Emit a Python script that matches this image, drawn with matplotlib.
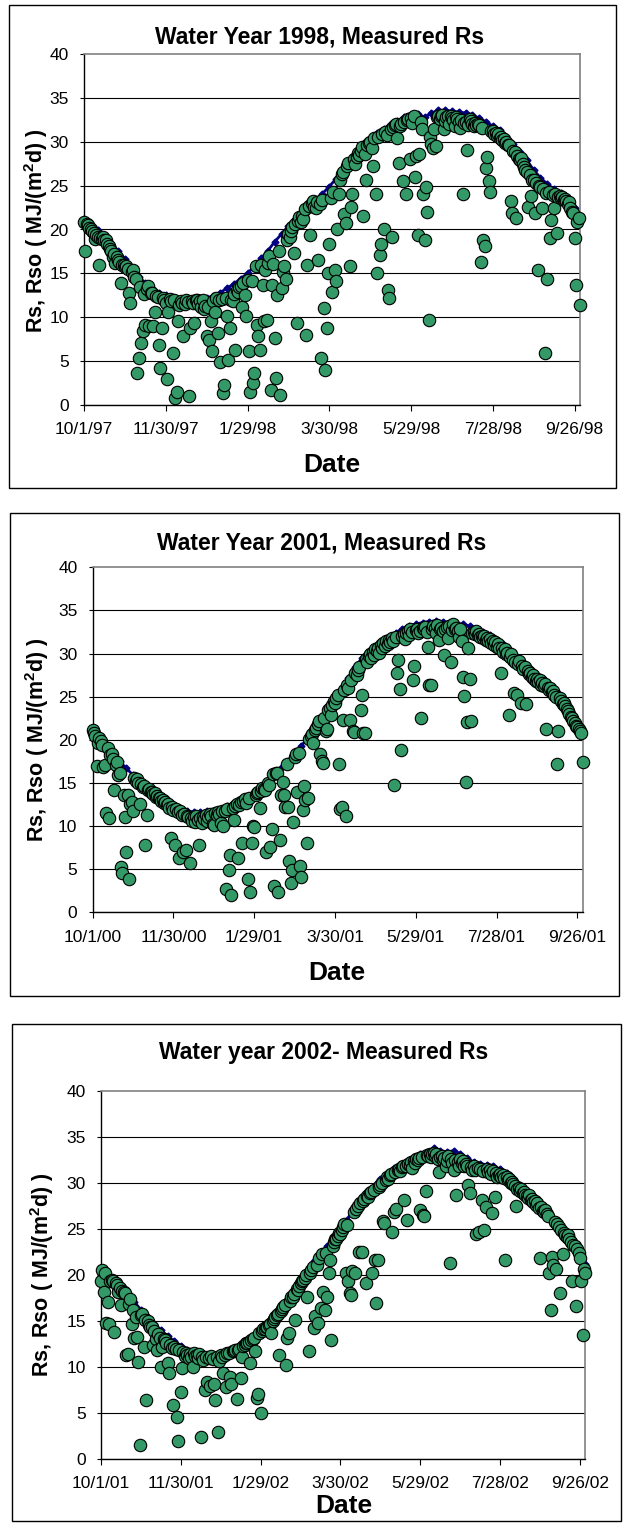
import matplotlib
matplotlib.use("Agg")
import matplotlib.pyplot as plt
import matplotlib.ticker as mticker
import matplotlib.dates as mdates
from matplotlib.patches import Rectangle
import pandas as pd

plt.rcParams["font.family"] = ["Liberation Sans", "DejaVu Sans"]
plt.rcParams["mathtext.fontset"] = "custom"
plt.rcParams["mathtext.rm"] = "Liberation Sans"
plt.rcParams["mathtext.bf"] = "Liberation Sans:bold"

W, H = 623, 1523

# daily measured Rs, MJ/(m2 d), water years starting Oct 1
rs_1998 = [
    20.9, 17.6, 20.6, 20.5, 20.2, 20.0, 19.8, 19.6, 18.9, 19.4,
    19.2, 16.0, 19.0, 18.9, 19.1, 18.8, 18.8, 18.4, 18.1, 17.8,
    17.6, 16.9, 17.2, 16.2, 16.9, 16.5, 16.3, 13.9, 16.0, 15.9,
    15.7, 15.8, 15.5, 12.8, 11.6, 15.2, 15.4, 14.6, 14.4, 3.6,
    5.3, 13.4, 7.0, 8.4, 12.6, 9.1, 13.2, 13.6, 9.0, 12.8,
    12.7, 9.0, 10.6, 12.4, 12.3, 6.8, 4.2, 8.7, 12.2, 12.0,
    11.6, 2.9, 10.6, 12.1, 11.8, 5.9, 11.9, 0.8, 1.4, 9.5,
    11.4, 11.8, 11.6, 7.8, 11.5, 11.9, 11.7, 1.0, 8.7, 11.8,
    11.6, 9.3, 11.9, 12.0, 11.5, 11.8, 11.2, 11.9, 10.9, 11.3,
    7.8, 11.1, 7.4, 9.6, 6.1, 11.8, 10.6, 12.2, 8.2, 11.9,
    4.9, 12.1, 1.3, 2.3, 12.2, 10.1, 5.1, 8.7, 12.0, 11.8,
    12.6, 6.3, 13.1, 12.9, 13.4, 13.6, 11.2, 13.9, 12.5, 10.1,
    14.2, 6.1, 1.5, 14.1, 2.5, 3.6, 15.8, 9.1, 7.8, 6.3,
    16.0, 13.7, 9.5, 15.4, 9.7, 16.2, 17.0, 1.7, 13.7, 16.1,
    7.6, 3.0, 12.5, 17.5, 1.1, 13.3, 15.2, 15.8, 14.3, 18.8,
    19.5, 19.2, 19.8, 20.3, 17.3, 20.6, 9.3, 21.0, 21.4, 20.9,
    21.5, 21.2, 22.3, 8.0, 16.0, 22.7, 19.4, 23.0, 23.3, 22.6,
    22.4, 23.1, 16.5, 22.9, 5.3, 23.4, 11.0, 4.0, 8.7, 15.0,
    18.3, 23.6, 12.9, 24.3, 15.4, 14.1, 20.0, 24.0, 25.6, 26.3,
    26.6, 21.8, 20.7, 27.2, 27.6, 15.8, 22.6, 24.0, 28.0, 27.5,
    28.3, 28.7, 28.5, 29.0, 29.4, 21.5, 28.6, 25.7, 29.6, 29.9,
    30.0, 29.3, 27.3, 30.4, 24.0, 15.0, 30.6, 17.1, 18.3, 30.9,
    20.0, 31.1, 30.8, 13.1, 12.2, 31.5, 19.2, 31.7, 31.9, 32.0,
    30.5, 27.6, 31.8, 32.1, 25.5, 32.3, 24.0, 32.5, 32.6, 28.1,
    32.7, 32.2, 32.9, 26.0, 28.4, 19.4, 28.6, 32.3, 31.5, 24.0,
    18.8, 24.9, 22.0, 9.7, 30.6, 29.8, 29.3, 31.5, 29.5, 32.8,
    33.0, 32.6, 32.9, 33.1, 31.5, 32.4, 32.8, 33.0, 32.1, 32.9,
    32.7, 32.5, 31.8, 32.8, 32.6, 32.3, 31.6, 32.5, 24.0, 32.2,
    32.3, 29.1, 31.9, 32.6, 32.4, 32.0, 31.8, 32.2, 31.9, 32.1,
    31.9, 16.3, 31.6, 18.8, 18.1, 27.0, 28.3, 25.5, 24.3, 31.2,
    31.2, 30.9, 31.0, 30.7, 30.9, 30.5, 30.6, 30.2, 30.3, 29.9,
    30.0, 29.6, 29.7, 23.2, 21.9, 29.0, 28.8, 21.3, 28.4, 28.1,
    27.9, 28.2, 27.5, 27.1, 26.8, 26.6, 22.6, 26.2, 23.8, 25.7,
    25.6, 21.9, 25.3, 15.4, 25.0, 24.8, 22.4, 24.6, 5.9, 24.2,
    14.4, 24.3, 19.0, 21.1, 23.9, 22.4, 24.0, 19.6, 23.7, 23.8,
    23.6, 23.7, 23.4, 23.5, 23.2, 22.9, 23.1, 22.5, 22.0, 21.9,
    19.0, 13.7, 20.9, 21.3, 11.4,
]

rs_2001 = [
    21.1, 20.8, 20.4, 17.0, 19.6, 20.2, 19.9, 19.4, 16.9, 17.1,
    11.5, 19.0, 10.9, 18.2, 18.4, 17.8, 14.2, 17.1, 17.4, 15.9,
    16.2, 5.3, 4.5, 13.6, 11.1, 7.0, 13.6, 3.9, 12.6, 12.8,
    11.7, 15.6, 15.2, 15.4, 15.0, 12.6, 14.9, 14.5, 14.7, 7.8,
    11.3, 14.2, 14.3, 13.9, 14.0, 13.7, 13.8, 13.4, 13.5, 13.2,
    13.3, 12.9, 13.0, 12.7, 12.8, 12.4, 12.5, 12.1, 8.6, 12.2,
    11.9, 7.8, 12.0, 11.6, 6.3, 11.7, 11.3, 7.0, 11.4, 7.2,
    11.2, 11.0, 5.7, 10.9, 10.6, 11.1, 10.5, 11.2, 10.7, 7.8,
    10.9, 10.4, 11.1, 10.8, 11.3, 10.6, 11.0, 11.4, 11.2, 10.2,
    10.1, 11.5, 11.3, 11.6, 11.4, 10.3, 11.7, 10.0, 11.8, 2.7,
    12.0, 4.9, 6.7, 2.0, 12.1, 10.7, 12.3, 12.5, 6.3, 12.4,
    12.8, 8.0, 12.9, 13.1, 12.7, 3.9, 13.2, 2.4, 8.0, 10.0,
    9.9, 13.6, 13.8, 14.0, 12.1, 14.1, 14.4, 14.3, 14.2, 7.0,
    15.0, 14.8, 7.6, 9.7, 16.0, 3.1, 16.1, 16.2, 2.4, 8.4,
    13.6, 15.1, 13.6, 12.2, 17.2, 12.2, 6.0, 3.4, 4.9, 10.5,
    18.0, 18.3, 13.9, 18.5, 5.4, 4.1, 11.9, 14.6, 13.0, 8.0,
    13.2, 20.1, 20.4, 20.7, 19.6, 21.1, 21.4, 21.8, 22.2, 18.4,
    17.5, 17.3, 22.5, 21.0, 21.2, 23.4, 23.7, 22.9, 24.0, 24.5,
    24.3, 24.9, 25.2, 17.2, 12.0, 12.2, 22.3, 25.8, 11.2, 26.4,
    26.0, 22.3, 26.9, 21.0, 20.9, 27.7, 27.5, 28.1, 28.4, 23.5,
    25.2, 20.8, 20.8, 29.4, 29.0, 29.7, 30.0, 29.5, 30.2, 29.8,
    30.5, 30.3, 30.7, 30.1, 31.0, 30.6, 31.2, 30.9, 31.4, 31.1,
    31.6, 31.3, 31.8, 31.5, 14.8, 31.9, 27.7, 29.2, 25.9, 18.8,
    32.0, 32.3, 31.7, 32.4, 32.6, 32.2, 32.8, 32.5, 26.9, 28.6,
    32.7, 32.9, 32.4, 32.6, 22.5, 33.0, 32.8, 33.1, 32.5, 30.8,
    26.3, 26.4, 32.9, 33.2, 33.0, 32.4, 33.3, 31.6, 32.8, 33.0,
    32.6, 29.8, 32.9, 33.1, 31.8, 33.2, 29.0, 32.7, 33.4, 32.9,
    33.0, 32.6, 31.9, 32.8, 31.4, 27.3, 25.1, 15.1, 22.1, 30.6,
    27.0, 22.2, 32.4, 32.5, 32.3, 32.6, 32.1, 32.3, 31.9, 32.0,
    31.8, 32.0, 31.6, 31.8, 31.4, 31.7, 31.2, 31.5, 31.0, 31.3,
    30.8, 31.1, 30.6, 27.7, 30.7, 30.2, 30.5, 29.9, 30.1, 22.9,
    29.6, 29.9, 29.3, 25.4, 29.0, 25.2, 28.8, 29.1, 24.3, 28.5,
    28.2, 28.4, 24.2, 28.0, 27.6, 27.8, 27.3, 27.5, 27.1, 26.8,
    27.0, 26.7, 26.9, 26.4, 26.6, 26.2, 26.5, 21.2, 26.0, 25.8,
    26.0, 25.5, 25.7, 25.2, 25.0, 17.2, 21.0, 24.8, 24.5, 24.2,
    24.3, 23.9, 23.6, 23.3, 23.0, 22.7, 22.5, 22.2, 21.9, 21.6,
    21.5, 21.2, 21.0, 20.8, 17.4,
]

rs_2002 = [
    19.4, 20.5, 18.2, 20.2, 14.8, 17.1, 14.7, 19.4, 19.5, 19.3,
    13.8, 19.1, 18.9, 18.2, 18.6, 16.7, 18.3, 18.2, 18.0, 11.3,
    11.4, 16.9, 17.4, 14.7, 16.2, 13.1, 15.4, 13.3, 10.5, 1.5,
    15.6, 15.8, 12.2, 15.1, 6.4, 15.0, 14.6, 14.4, 14.3, 12.4,
    13.9, 13.0, 11.8, 13.6, 13.2, 10.0, 12.2, 13.0, 12.9, 12.6,
    10.4, 9.4, 12.4, 12.1, 5.9, 12.2, 12.0, 4.6, 2.0, 11.8,
    7.3, 9.9, 11.6, 11.2, 11.5, 11.3, 11.0, 11.4, 11.1, 10.0,
    11.5, 11.2, 11.3, 11.0, 11.4, 2.4, 11.1, 10.8, 7.5, 11.1,
    8.4, 11.0, 7.9, 11.2, 10.9, 8.2, 6.4, 11.1, 2.9, 10.7,
    11.3, 11.1, 9.3, 11.3, 7.8, 11.5, 11.5, 8.9, 8.2, 11.7,
    11.7, 11.8, 6.5, 11.9, 12.0, 8.8, 11.1, 12.3, 12.4, 12.6,
    12.6, 12.7, 10.4, 12.9, 13.0, 13.1, 11.7, 6.6, 7.1, 13.7,
    5.0, 13.9, 14.1, 14.1, 14.3, 14.4, 14.6, 14.7, 13.7, 15.0,
    15.2, 15.4, 15.6, 15.8, 11.3, 16.1, 16.3, 16.5, 16.7, 10.2,
    13.1, 13.7, 17.2, 17.6, 17.6, 17.9, 15.1, 18.5, 18.4, 18.8,
    19.1, 19.4, 19.5, 19.7, 20.0, 17.6, 11.7, 20.2, 20.5, 20.9,
    14.2, 15.5, 21.1, 14.8, 21.8, 16.4, 22.3, 18.1, 16.2, 22.4,
    17.6, 20.2, 21.6, 12.9, 23.2, 23.6, 23.9, 23.9, 24.2, 24.6,
    24.5, 24.9, 25.2, 25.5, 20.2, 25.4, 19.3, 18.0, 17.8, 20.4,
    26.8, 20.2, 27.2, 27.5, 22.5, 27.8, 22.5, 28.0, 28.3, 19.1,
    28.6, 28.5, 28.9, 29.0, 20.2, 29.2, 21.6, 17.0, 21.6, 29.6,
    29.8, 30.0, 25.9, 25.6, 30.3, 30.6, 30.4, 30.9, 31.0, 24.7,
    26.9, 31.2, 27.2, 31.4, 31.5, 31.3, 31.7, 31.8, 28.2, 31.9,
    26.0, 32.1, 32.0, 32.3, 31.6, 32.4, 32.2, 32.6, 32.5, 32.7,
    27.1, 32.8, 26.5, 26.4, 29.1, 33.0, 32.9, 33.1, 32.8, 33.2,
    33.3, 32.9, 33.1, 32.6, 31.2, 32.8, 32.9, 32.5, 32.7, 31.8,
    32.4, 32.9, 21.3, 32.6, 32.2, 31.4, 32.5, 28.7, 32.3, 31.9,
    32.6, 32.2, 32.4, 31.9, 32.1, 31.8, 29.8, 28.9, 31.7, 31.4,
    31.8, 31.4, 24.5, 31.6, 24.7, 31.5, 28.2, 31.3, 24.9, 27.4,
    31.5, 31.2, 31.4, 31.0, 26.7, 31.3, 28.5, 31.1, 30.6, 30.9,
    31.0, 30.7, 30.9, 30.5, 21.6, 30.6, 30.3, 30.4, 30.0, 30.1,
    29.9, 29.7, 27.5, 29.4, 29.5, 29.1, 29.3, 28.9, 29.0, 28.7,
    28.6, 28.4, 28.7, 28.1, 28.3, 27.9, 28.0, 27.6, 27.8, 27.3,
    21.8, 27.4, 27.0, 26.8, 27.1, 26.6, 26.4, 20.2, 16.2, 22.0,
    21.1, 25.8, 20.7, 25.5, 25.2, 18.0, 24.9, 22.3, 24.6, 24.4,
    24.1, 24.3, 23.9, 23.6, 19.3, 23.3, 23.1, 16.6, 22.8, 22.4,
    21.8, 19.3, 13.5, 20.6, 20.2,
]

# clear-sky Rso, every 5 days plus the last day of the year
rso_1998 = [
    21.2, 20.6, 19.9, 19.2, 18.4, 17.5, 16.6, 15.6, 14.6, 13.9,
    13.3, 12.8, 12.5, 12.2, 12.0, 11.9, 11.9, 12.0, 12.2, 12.4,
    12.8, 13.3, 13.8, 14.4, 15.0, 15.8, 16.7, 17.6, 18.6, 19.5,
    20.4, 21.2, 22.0, 22.7, 23.4, 24.1, 24.9, 25.8, 26.7, 27.6,
    28.6, 29.5, 30.3, 31.0, 31.5, 32.0, 32.4, 32.8, 33.1, 33.2,
    32.8, 33.3, 33.6, 33.6, 33.5, 33.4, 33.3, 33.1, 32.7, 32.3,
    31.8, 31.4, 30.6, 29.8, 28.9, 27.9, 26.8, 25.9, 25.2, 24.6,
    24.2, 23.6, 22.4, 21.5,
]
rso_2001 = [
    21.2, 20.2, 19.2, 18.3, 17.5, 16.7, 15.9, 15.2, 14.6, 14.1,
    13.6, 13.1, 12.6, 12.1, 11.8, 11.6, 11.6, 11.7, 11.8, 12.0,
    12.3, 12.7, 13.1, 13.5, 14.0, 14.5, 15.2, 15.9, 16.7, 17.5,
    18.4, 19.3, 20.3, 21.4, 22.6, 23.7, 24.8, 25.9, 27.2, 28.4,
    29.5, 30.3, 30.9, 31.4, 31.9, 32.4, 32.9, 33.2, 33.4, 33.6,
    33.7, 33.8, 33.7, 33.6, 33.5, 33.4, 33.2, 32.9, 32.5, 32.1,
    31.6, 31.1, 30.4, 29.6, 28.8, 28.1, 27.5, 27.0, 26.4, 25.6,
    24.6, 23.2, 21.9, 21.0,
]
rso_2002 = [
    20.8, 20.1, 19.4, 18.7, 18.0, 17.1, 16.2, 15.4, 14.7, 14.0,
    13.4, 12.8, 12.3, 11.9, 11.6, 11.4, 11.3, 11.3, 11.4, 11.6,
    11.9, 12.3, 12.8, 13.3, 13.9, 14.6, 15.4, 16.3, 17.3, 18.3,
    19.4, 20.5, 21.5, 22.4, 23.2, 24.1, 25.0, 26.0, 27.3, 28.3,
    29.1, 29.7, 30.4, 31.0, 31.6, 32.0, 32.4, 32.8, 33.1, 33.4,
    33.8, 33.5, 33.4, 33.5, 33.2, 32.7, 32.3, 32.1, 32.0, 31.8,
    31.5, 31.1, 30.5, 29.8, 29.1, 28.4, 27.8, 27.1, 26.2, 25.3,
    24.6, 23.8, 22.6, 21.2,
]

# layout in pixels (x from left, y from top)
panels = [
    dict(title="Water Year 1998, Measured Rs", start="1997-10-01",
         rs=rs_1998, rso=rso_1998,
         plot=(84, 54.3, 580, 404.7), box=(8.7, 5, 616, 488),
         title_xy=(320, 37), date_xy=(332, 465), ylab_xy=(36, 231)),
    dict(title="Water Year 2001, Measured Rs", start="2000-10-01",
         rs=rs_2001, rso=rso_2001,
         plot=(92.7, 567.3, 582.7, 912.3), box=(10, 513, 619, 996),
         title_xy=(322, 543), date_xy=(337, 973), ylab_xy=(37, 740)),
    dict(title="Water year 2002- Measured Rs", start="2001-10-01",
         rs=rs_2002, rso=rso_2002,
         plot=(101, 1091, 585.3, 1459), box=(12, 1024, 621, 1521),
         title_xy=(324, 1053), date_xy=(344, 1506), ylab_xy=(42, 1275)),
]


def fx(x):
    return x / W


def fy(y):
    return 1 - y / H


def date_label(v, pos=None):
    d = mdates.num2date(v)
    return f"{d.month}/{d.day}/{d:%y}"


fig = plt.figure(figsize=(W / 100, H / 100), dpi=100)

for p in panels:
    x0, y0, x1, y1 = p["box"]
    fig.patches.append(Rectangle((fx(x0), fy(y1)), fx(x1) - fx(x0), fy(y0) - fy(y1),
                                 transform=fig.transFigure, fill=False,
                                 edgecolor="black", linewidth=1.0))

    l, t, r, b = p["plot"]
    ax = fig.add_axes([fx(l), fy(b), fx(r) - fx(l), fy(t) - fy(b)])

    start = pd.Timestamp(p["start"])
    days = pd.date_range(start, periods=len(p["rs"]), freq="D")
    rso_days = list(pd.date_range(start, periods=len(p["rso"]) - 1, freq="5D"))
    rso_days.append(start + pd.Timedelta(days=364))

    # Rso sits underneath; only its upper edge shows between the Rs dots
    ax.plot(rso_days, p["rso"], color="#000080", lw=2, marker="D", ms=3.5,
            zorder=2, clip_on=False)
    ax.scatter(days, p["rs"], s=80, c="#339966", edgecolors="black",
               linewidths=0.8, zorder=3, clip_on=False)

    ax.set_xlim(start, start + pd.Timedelta(days=364))
    ax.set_ylim(0, 40)
    ax.set_yticks(range(0, 41, 5))
    ax.set_xticks(pd.date_range(start, periods=7, freq="60D"))
    ax.xaxis.set_major_formatter(mticker.FuncFormatter(date_label))

    ax.grid(axis="y", color="black", lw=0.8)
    ax.get_ygridlines()[-1].set_visible(False)
    ax.set_axisbelow(True)

    for side in ("top", "right"):
        ax.spines[side].set_color("#808080")
        ax.spines[side].set_linewidth(1.2)
    for side in ("left", "bottom"):
        ax.spines[side].set_color("black")
        ax.spines[side].set_linewidth(1.0)

    ax.tick_params(axis="x", direction="out", length=4, width=0.8,
                   pad=8.5, labelsize=12.5)
    ax.tick_params(axis="y", direction="out", length=3, width=0.8,
                   pad=8, labelsize=12.5)

    tx, ty = p["title_xy"]
    fig.text(fx(tx), fy(ty), p["title"], ha="center", va="center",
             fontsize=16.5, fontweight="bold")
    dx, dy = p["date_xy"]
    fig.text(fx(dx), fy(dy), "Date", ha="center", va="center",
             fontsize=19, fontweight="bold")
    lx, ly = p["ylab_xy"]
    fig.text(fx(lx), fy(ly), r"Rs, Rso ( MJ/(m$^{\mathbf{2}}$d) )",
             ha="center", va="center", rotation=90,
             fontsize=15.5, fontweight="bold")

fig.savefig("out.png", dpi=100)
